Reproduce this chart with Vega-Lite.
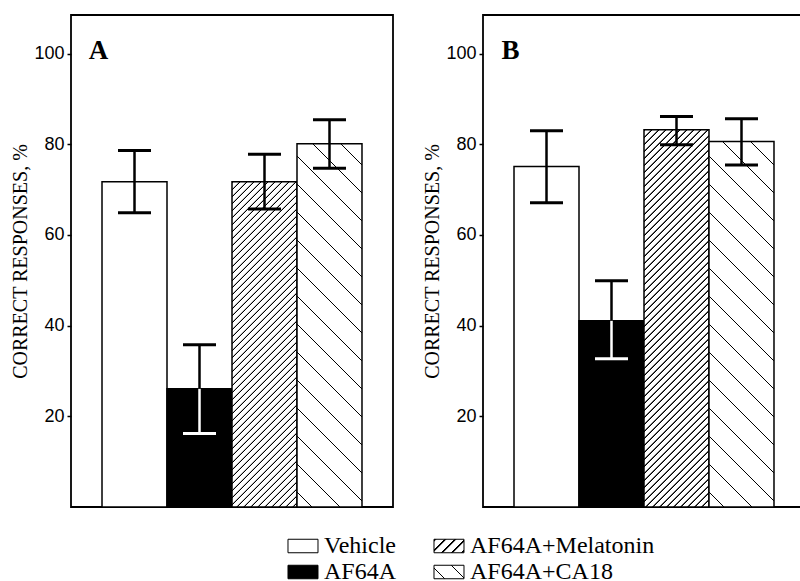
{
  "$schema": "https://vega.github.io/schema/vega-lite/v6.json",
  "padding": {"left": 10, "top": 14, "right": 0, "bottom": 0},
  "background": "white",
  "params": [
    {"name": "melStops", "value": [
{"offset":0,"color":"#fff"},{"offset":0.001,"color":"#000"},{"offset":0.003,"color":"#000"},{"offset":0.0045,"color":"#fff"},
{"offset":0.015,"color":"#fff"},{"offset":0.016,"color":"#000"},{"offset":0.018,"color":"#000"},{"offset":0.0195,"color":"#fff"},
{"offset":0.03,"color":"#fff"},{"offset":0.031,"color":"#000"},{"offset":0.033,"color":"#000"},{"offset":0.0345,"color":"#fff"},
{"offset":0.045,"color":"#fff"},{"offset":0.046,"color":"#000"},{"offset":0.048,"color":"#000"},{"offset":0.0495,"color":"#fff"},
{"offset":0.06,"color":"#fff"},{"offset":0.061,"color":"#000"},{"offset":0.063,"color":"#000"},{"offset":0.0645,"color":"#fff"},
{"offset":0.075,"color":"#fff"},{"offset":0.076,"color":"#000"},{"offset":0.078,"color":"#000"},{"offset":0.0795,"color":"#fff"},
{"offset":0.09,"color":"#fff"},{"offset":0.091,"color":"#000"},{"offset":0.093,"color":"#000"},{"offset":0.0945,"color":"#fff"},
{"offset":0.105,"color":"#fff"},{"offset":0.106,"color":"#000"},{"offset":0.108,"color":"#000"},{"offset":0.1095,"color":"#fff"},
{"offset":0.12,"color":"#fff"},{"offset":0.121,"color":"#000"},{"offset":0.123,"color":"#000"},{"offset":0.1245,"color":"#fff"},
{"offset":0.135,"color":"#fff"},{"offset":0.136,"color":"#000"},{"offset":0.138,"color":"#000"},{"offset":0.1395,"color":"#fff"},
{"offset":0.15,"color":"#fff"},{"offset":0.151,"color":"#000"},{"offset":0.153,"color":"#000"},{"offset":0.1545,"color":"#fff"},
{"offset":0.165,"color":"#fff"},{"offset":0.166,"color":"#000"},{"offset":0.168,"color":"#000"},{"offset":0.1695,"color":"#fff"},
{"offset":0.18,"color":"#fff"},{"offset":0.181,"color":"#000"},{"offset":0.183,"color":"#000"},{"offset":0.1845,"color":"#fff"},
{"offset":0.195,"color":"#fff"},{"offset":0.196,"color":"#000"},{"offset":0.198,"color":"#000"},{"offset":0.1995,"color":"#fff"},
{"offset":0.21,"color":"#fff"},{"offset":0.211,"color":"#000"},{"offset":0.213,"color":"#000"},{"offset":0.2145,"color":"#fff"},
{"offset":0.225,"color":"#fff"},{"offset":0.226,"color":"#000"},{"offset":0.228,"color":"#000"},{"offset":0.2295,"color":"#fff"},
{"offset":0.24,"color":"#fff"},{"offset":0.241,"color":"#000"},{"offset":0.243,"color":"#000"},{"offset":0.2445,"color":"#fff"},
{"offset":0.255,"color":"#fff"},{"offset":0.256,"color":"#000"},{"offset":0.258,"color":"#000"},{"offset":0.2595,"color":"#fff"},
{"offset":0.27,"color":"#fff"},{"offset":0.271,"color":"#000"},{"offset":0.273,"color":"#000"},{"offset":0.2745,"color":"#fff"},
{"offset":0.285,"color":"#fff"},{"offset":0.286,"color":"#000"},{"offset":0.288,"color":"#000"},{"offset":0.2895,"color":"#fff"},
{"offset":0.3,"color":"#fff"},{"offset":0.301,"color":"#000"},{"offset":0.303,"color":"#000"},{"offset":0.3045,"color":"#fff"},
{"offset":0.315,"color":"#fff"},{"offset":0.316,"color":"#000"},{"offset":0.318,"color":"#000"},{"offset":0.3195,"color":"#fff"},
{"offset":0.33,"color":"#fff"},{"offset":0.331,"color":"#000"},{"offset":0.333,"color":"#000"},{"offset":0.3345,"color":"#fff"},
{"offset":0.345,"color":"#fff"},{"offset":0.346,"color":"#000"},{"offset":0.348,"color":"#000"},{"offset":0.3495,"color":"#fff"},
{"offset":0.36,"color":"#fff"},{"offset":0.361,"color":"#000"},{"offset":0.363,"color":"#000"},{"offset":0.3645,"color":"#fff"},
{"offset":0.375,"color":"#fff"},{"offset":0.376,"color":"#000"},{"offset":0.378,"color":"#000"},{"offset":0.3795,"color":"#fff"},
{"offset":0.39,"color":"#fff"},{"offset":0.391,"color":"#000"},{"offset":0.393,"color":"#000"},{"offset":0.3945,"color":"#fff"},
{"offset":0.405,"color":"#fff"},{"offset":0.406,"color":"#000"},{"offset":0.408,"color":"#000"},{"offset":0.4095,"color":"#fff"},
{"offset":0.42,"color":"#fff"},{"offset":0.421,"color":"#000"},{"offset":0.423,"color":"#000"},{"offset":0.4245,"color":"#fff"},
{"offset":0.435,"color":"#fff"},{"offset":0.436,"color":"#000"},{"offset":0.438,"color":"#000"},{"offset":0.4395,"color":"#fff"},
{"offset":0.45,"color":"#fff"},{"offset":0.451,"color":"#000"},{"offset":0.453,"color":"#000"},{"offset":0.4545,"color":"#fff"},
{"offset":0.465,"color":"#fff"},{"offset":0.466,"color":"#000"},{"offset":0.468,"color":"#000"},{"offset":0.4695,"color":"#fff"},
{"offset":0.48,"color":"#fff"},{"offset":0.481,"color":"#000"},{"offset":0.483,"color":"#000"},{"offset":0.4845,"color":"#fff"},
{"offset":0.495,"color":"#fff"},{"offset":0.496,"color":"#000"},{"offset":0.498,"color":"#000"},{"offset":0.4995,"color":"#fff"},
{"offset":0.51,"color":"#fff"},{"offset":0.511,"color":"#000"},{"offset":0.513,"color":"#000"},{"offset":0.5145,"color":"#fff"},
{"offset":0.525,"color":"#fff"},{"offset":0.526,"color":"#000"},{"offset":0.528,"color":"#000"},{"offset":0.5295,"color":"#fff"},
{"offset":0.54,"color":"#fff"},{"offset":0.541,"color":"#000"},{"offset":0.543,"color":"#000"},{"offset":0.5445,"color":"#fff"},
{"offset":0.555,"color":"#fff"},{"offset":0.556,"color":"#000"},{"offset":0.558,"color":"#000"},{"offset":0.5595,"color":"#fff"},
{"offset":0.57,"color":"#fff"},{"offset":0.571,"color":"#000"},{"offset":0.573,"color":"#000"},{"offset":0.5745,"color":"#fff"},
{"offset":0.585,"color":"#fff"},{"offset":0.586,"color":"#000"},{"offset":0.588,"color":"#000"},{"offset":0.5895,"color":"#fff"},
{"offset":0.6,"color":"#fff"},{"offset":0.601,"color":"#000"},{"offset":0.603,"color":"#000"},{"offset":0.6045,"color":"#fff"},
{"offset":0.615,"color":"#fff"},{"offset":0.616,"color":"#000"},{"offset":0.618,"color":"#000"},{"offset":0.6195,"color":"#fff"},
{"offset":0.63,"color":"#fff"},{"offset":0.631,"color":"#000"},{"offset":0.633,"color":"#000"},{"offset":0.6345,"color":"#fff"},
{"offset":0.645,"color":"#fff"},{"offset":0.646,"color":"#000"},{"offset":0.648,"color":"#000"},{"offset":0.6495,"color":"#fff"},
{"offset":0.66,"color":"#fff"},{"offset":0.661,"color":"#000"},{"offset":0.663,"color":"#000"},{"offset":0.6645,"color":"#fff"},
{"offset":0.675,"color":"#fff"},{"offset":0.676,"color":"#000"},{"offset":0.678,"color":"#000"},{"offset":0.6795,"color":"#fff"},
{"offset":0.69,"color":"#fff"},{"offset":0.691,"color":"#000"},{"offset":0.693,"color":"#000"},{"offset":0.6945,"color":"#fff"},
{"offset":0.705,"color":"#fff"},{"offset":0.706,"color":"#000"},{"offset":0.708,"color":"#000"},{"offset":0.7095,"color":"#fff"},
{"offset":0.72,"color":"#fff"},{"offset":0.721,"color":"#000"},{"offset":0.723,"color":"#000"},{"offset":0.7245,"color":"#fff"},
{"offset":0.735,"color":"#fff"},{"offset":0.736,"color":"#000"},{"offset":0.738,"color":"#000"},{"offset":0.7395,"color":"#fff"},
{"offset":0.75,"color":"#fff"},{"offset":0.751,"color":"#000"},{"offset":0.753,"color":"#000"},{"offset":0.7545,"color":"#fff"},
{"offset":0.765,"color":"#fff"},{"offset":0.766,"color":"#000"},{"offset":0.768,"color":"#000"},{"offset":0.7695,"color":"#fff"},
{"offset":0.78,"color":"#fff"},{"offset":0.781,"color":"#000"},{"offset":0.783,"color":"#000"},{"offset":0.7845,"color":"#fff"},
{"offset":0.795,"color":"#fff"},{"offset":0.796,"color":"#000"},{"offset":0.798,"color":"#000"},{"offset":0.7995,"color":"#fff"},
{"offset":0.81,"color":"#fff"},{"offset":0.811,"color":"#000"},{"offset":0.813,"color":"#000"},{"offset":0.8145,"color":"#fff"},
{"offset":0.825,"color":"#fff"},{"offset":0.826,"color":"#000"},{"offset":0.828,"color":"#000"},{"offset":0.8295,"color":"#fff"},
{"offset":0.84,"color":"#fff"},{"offset":0.841,"color":"#000"},{"offset":0.843,"color":"#000"},{"offset":0.8445,"color":"#fff"},
{"offset":0.855,"color":"#fff"},{"offset":0.856,"color":"#000"},{"offset":0.858,"color":"#000"},{"offset":0.8595,"color":"#fff"},
{"offset":0.87,"color":"#fff"},{"offset":0.871,"color":"#000"},{"offset":0.873,"color":"#000"},{"offset":0.8745,"color":"#fff"},
{"offset":0.885,"color":"#fff"},{"offset":0.886,"color":"#000"},{"offset":0.888,"color":"#000"},{"offset":0.8895,"color":"#fff"},
{"offset":0.9,"color":"#fff"},{"offset":0.901,"color":"#000"},{"offset":0.903,"color":"#000"},{"offset":0.9045,"color":"#fff"},
{"offset":0.915,"color":"#fff"},{"offset":0.916,"color":"#000"},{"offset":0.918,"color":"#000"},{"offset":0.9195,"color":"#fff"},
{"offset":0.93,"color":"#fff"},{"offset":0.931,"color":"#000"},{"offset":0.933,"color":"#000"},{"offset":0.9345,"color":"#fff"},
{"offset":0.945,"color":"#fff"},{"offset":0.946,"color":"#000"},{"offset":0.948,"color":"#000"},{"offset":0.9495,"color":"#fff"},
{"offset":0.96,"color":"#fff"},{"offset":0.961,"color":"#000"},{"offset":0.963,"color":"#000"},{"offset":0.9645,"color":"#fff"},
{"offset":0.975,"color":"#fff"},{"offset":0.976,"color":"#000"},{"offset":0.978,"color":"#000"},{"offset":0.9795,"color":"#fff"},
{"offset":0.99,"color":"#fff"},{"offset":0.991,"color":"#000"},{"offset":0.993,"color":"#000"},{"offset":0.9945,"color":"#fff"},
{"offset":1,"color":"#fff"}
    ]},
    {"name": "caStops", "value": [
{"offset":0,"color":"#fff"},
{"offset":0.03,"color":"#fff"},{"offset":0.031,"color":"#000"},{"offset":0.0325,"color":"#000"},{"offset":0.034,"color":"#fff"},
{"offset":0.09,"color":"#fff"},{"offset":0.091,"color":"#000"},{"offset":0.0925,"color":"#000"},{"offset":0.094,"color":"#fff"},
{"offset":0.15,"color":"#fff"},{"offset":0.151,"color":"#000"},{"offset":0.1525,"color":"#000"},{"offset":0.154,"color":"#fff"},
{"offset":0.21,"color":"#fff"},{"offset":0.211,"color":"#000"},{"offset":0.2125,"color":"#000"},{"offset":0.214,"color":"#fff"},
{"offset":0.27,"color":"#fff"},{"offset":0.271,"color":"#000"},{"offset":0.2725,"color":"#000"},{"offset":0.274,"color":"#fff"},
{"offset":0.33,"color":"#fff"},{"offset":0.331,"color":"#000"},{"offset":0.3325,"color":"#000"},{"offset":0.334,"color":"#fff"},
{"offset":0.39,"color":"#fff"},{"offset":0.391,"color":"#000"},{"offset":0.3925,"color":"#000"},{"offset":0.394,"color":"#fff"},
{"offset":0.45,"color":"#fff"},{"offset":0.451,"color":"#000"},{"offset":0.4525,"color":"#000"},{"offset":0.454,"color":"#fff"},
{"offset":0.51,"color":"#fff"},{"offset":0.511,"color":"#000"},{"offset":0.5125,"color":"#000"},{"offset":0.514,"color":"#fff"},
{"offset":0.57,"color":"#fff"},{"offset":0.571,"color":"#000"},{"offset":0.5725,"color":"#000"},{"offset":0.574,"color":"#fff"},
{"offset":0.63,"color":"#fff"},{"offset":0.631,"color":"#000"},{"offset":0.6325,"color":"#000"},{"offset":0.634,"color":"#fff"},
{"offset":0.69,"color":"#fff"},{"offset":0.691,"color":"#000"},{"offset":0.6925,"color":"#000"},{"offset":0.694,"color":"#fff"},
{"offset":0.75,"color":"#fff"},{"offset":0.751,"color":"#000"},{"offset":0.7525,"color":"#000"},{"offset":0.754,"color":"#fff"},
{"offset":0.81,"color":"#fff"},{"offset":0.811,"color":"#000"},{"offset":0.8125,"color":"#000"},{"offset":0.814,"color":"#fff"},
{"offset":0.87,"color":"#fff"},{"offset":0.871,"color":"#000"},{"offset":0.8725,"color":"#000"},{"offset":0.874,"color":"#fff"},
{"offset":0.93,"color":"#fff"},{"offset":0.931,"color":"#000"},{"offset":0.9325,"color":"#000"},{"offset":0.934,"color":"#fff"},
{"offset":1,"color":"#fff"}
    ]}
  ],
  "config": {
    "view": {"stroke": "black", "strokeWidth": 1.8},
    "axis": {
      "domain": false, "grid": false, "ticks": true, "tickSize": 4, "tickWidth": 1.5, "tickColor": "black",
      "labelFont": "Liberation Sans", "labelFontSize": 18, "labelColor": "black", "labelPadding": 3,
      "titleFont": "Liberation Serif", "titleFontSize": 20, "titleFontWeight": "normal", "titleColor": "black", "titlePadding": 3
    }
  },
  "spacing": 24,
  "vconcat": [
    {
      "data": {"values": [
        {"panel": "A", "group": "Vehicle", "value": 71.7, "low": 64.9, "high": 78.6},
        {"panel": "A", "group": "AF64A", "value": 26.1, "low": 16.2, "high": 35.8},
        {"panel": "A", "group": "AF64A+Melatonin", "value": 71.7, "low": 65.7, "high": 77.8},
        {"panel": "A", "group": "AF64A+CA18", "value": 80.1, "low": 74.7, "high": 85.4},
        {"panel": "B", "group": "Vehicle", "value": 75.1, "low": 67.1, "high": 83.0},
        {"panel": "B", "group": "AF64A", "value": 41.1, "low": 32.7, "high": 49.9},
        {"panel": "B", "group": "AF64A+Melatonin", "value": 83.2, "low": 79.9, "high": 86.1},
        {"panel": "B", "group": "AF64A+CA18", "value": 80.6, "low": 75.4, "high": 85.6}
      ]},
      "facet": {"column": {"field": "panel", "type": "nominal", "title": null, "header": {"labels": false, "title": null}}},
      "spacing": 28,
      "resolve": {"axis": {"y": "independent"}},
      "spec": {
        "width": 322,
        "height": 492,
        "layer": [
          {
            "mark": {"type": "bar", "stroke": "black", "strokeWidth": 1.5},
            "encoding": {
              "x": {"field": "group", "type": "nominal", "sort": ["Vehicle", "AF64A", "AF64A+Melatonin", "AF64A+CA18"], "scale": {"paddingInner": 0, "paddingOuter": 0.477}, "axis": null},
              "y": {"field": "value", "type": "quantitative", "scale": {"domain": [0, 108.5], "nice": false}, "title": "CORRECT RESPONSES, %", "axis": {"values": [20, 40, 60, 80, 100], "titleFont": "Liberation Serif", "titleFontSize": 20, "titleFontWeight": "normal", "labelFont": "Liberation Sans", "labelFontSize": 18}},
              "fill": {"value": {"expr": "datum.group === 'Vehicle' ? 'white' : datum.group === 'AF64A' ? 'black' : datum.group === 'AF64A+Melatonin' ? {gradient: 'linear', x1: 0, y1: 0, x2: 30333.4 / (4225 + pow(datum.value * 4.534562, 2)), y2: datum.value * 4.534562 * 466.667 / (4225 + pow(datum.value * 4.534562, 2)), stops: melStops} : {gradient: 'linear', x1: 0, y1: 1, x2: 30333.4 / (4225 + pow(datum.value * 4.534562, 2)), y2: 1 - datum.value * 4.534562 * 466.667 / (4225 + pow(datum.value * 4.534562, 2)), stops: caStops}"}}
            }
          },
          {
            "mark": {"type": "rule", "strokeWidth": 2.5},
            "encoding": {
              "x": {"field": "group", "type": "nominal", "sort": ["Vehicle", "AF64A", "AF64A+Melatonin", "AF64A+CA18"], "axis": null},
              "y": {"field": "low", "type": "quantitative", "title": "CORRECT RESPONSES, %"},
              "y2": {"field": "value"},
              "stroke": {"condition": {"test": "datum.group === 'AF64A'", "value": "white"}, "value": "black"}
            }
          },
          {
            "mark": {"type": "rule", "strokeWidth": 2.5, "color": "black"},
            "encoding": {
              "x": {"field": "group", "type": "nominal", "sort": ["Vehicle", "AF64A", "AF64A+Melatonin", "AF64A+CA18"], "axis": null},
              "y": {"field": "value", "type": "quantitative", "title": "CORRECT RESPONSES, %"},
              "y2": {"field": "high"}
            }
          },
          {
            "mark": {"type": "tick", "size": 33, "thickness": 3, "opacity": 1},
            "encoding": {
              "x": {"field": "group", "type": "nominal", "sort": ["Vehicle", "AF64A", "AF64A+Melatonin", "AF64A+CA18"], "axis": null},
              "y": {"field": "high", "type": "quantitative", "title": "CORRECT RESPONSES, %"},
              "color": {"value": "black"}
            }
          },
          {
            "mark": {"type": "tick", "size": 33, "thickness": 3, "opacity": 1},
            "encoding": {
              "x": {"field": "group", "type": "nominal", "sort": ["Vehicle", "AF64A", "AF64A+Melatonin", "AF64A+CA18"], "axis": null},
              "y": {"field": "low", "type": "quantitative", "title": "CORRECT RESPONSES, %"},
              "color": {"condition": {"test": "datum.group === 'AF64A'", "value": "white"}, "value": "black"}
            }
          },
          {
            "transform": [{"filter": "datum.group === 'Vehicle'"}],
            "mark": {"type": "text", "dx": -36, "align": "center", "baseline": "alphabetic", "font": "Liberation Serif", "fontSize": 27, "fontWeight": "bold", "color": "black"},
            "encoding": {
              "x": {"field": "group", "type": "nominal", "sort": ["Vehicle", "AF64A", "AF64A+Melatonin", "AF64A+CA18"], "axis": null},
              "y": {"datum": 98.8, "type": "quantitative", "title": "CORRECT RESPONSES, %"},
              "text": {"field": "panel"}
            }
          }
        ]
      }
    },
    {
      "width": 600,
      "height": 52,
      "view": {"stroke": null},
      "data": {"values": [
        {"label": "Vehicle", "col": 0, "row": 0},
        {"label": "AF64A", "col": 0, "row": 1},
        {"label": "AF64A+Melatonin", "col": 1, "row": 0},
        {"label": "AF64A+CA18", "col": 1, "row": 1}
      ]},
      "encoding": {
        "x": {"field": "col", "type": "quantitative", "scale": {"domain": [-1.589, 2.5206], "nice": false, "zero": false}, "axis": null},
        "y": {"field": "row", "type": "ordinal", "scale": {"paddingInner": 0, "paddingOuter": 0}, "axis": null}
      },
      "layer": [
        {
          "mark": {"type": "point", "shape": "M-1,-0.45H1V0.45H-1Z", "size": 900, "filled": true, "stroke": "black", "strokeWidth": 1, "opacity": 1},
          "encoding": {
            "fill": {"value": {"expr": "datum.label === 'Vehicle' ? 'white' : datum.label === 'AF64A' ? 'black' : datum.label === 'AF64A+Melatonin' ? {gradient: 'linear', x1: 0, y1: 0, x2: 18.48, y2: 8.316, stops: melStops} : {gradient: 'linear', x1: 0, y1: 1, x2: 9.24, y2: -3.158, stops: caStops}"}}
          }
        },
        {
          "mark": {"type": "text", "align": "left", "baseline": "middle", "dx": 21, "font": "Liberation Serif", "fontSize": 24, "color": "black"},
          "encoding": {"text": {"field": "label"}}
        }
      ]
    }
  ]
}
